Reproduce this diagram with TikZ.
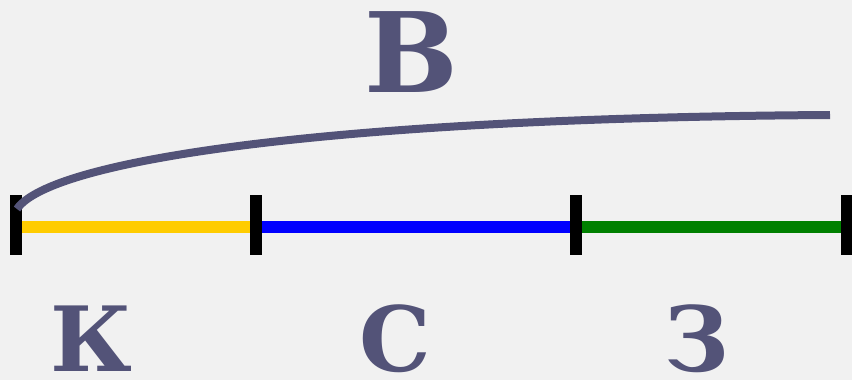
\documentclass[tikz,border=0pt]{standalone}
\usepackage{fontspec}
\setmainfont{DejaVu Serif}
\usepackage{xcolor}
\usetikzlibrary{positioning, calc}

\definecolor{slate}{RGB}{83,83,120}
\definecolor{bgray}{RGB}{241,241,241}
\definecolor{segyellow}{RGB}{255,204,0}
\definecolor{segblue}{RGB}{0,0,255}
\definecolor{seggreen}{RGB}{0,128,0}

\begin{document}
\begin{tikzpicture}[
    x=1pt, y=-1pt,
    letter/.style={text=slate, inner sep=0pt, anchor=base, font=\bfseries\fontsize{90}{90}\selectfont},
    seg/.style={line width=12pt},
    tick/.style={line width=12pt, black},
  ]
  \fill[bgray] (0,0) rectangle (852,380);
  \useasboundingbox (0,0) rectangle (852,380);

  % points on the line
  \coordinate (p0) at (16,227);
  \coordinate (p1) at (256,227);
  \coordinate (p2) at (576,227);
  \coordinate (p3) at (847,227);
  \coordinate (bend) at (830,115);

  \draw[seg, segyellow] (p0) -- (p1);
  \draw[seg, segblue] (p1) -- (p2);
  \draw[seg, seggreen] (p2) -- (p3);

  \foreach \p in {p0, p1, p2, p3}
    \draw[tick] ($(\p)+(0,-32)$) -- ($(\p)+(0,28)$);

  % arc above the segments
  \draw[slate, line width=8pt] ($(p0)+(1,-18)$) .. controls (50,160) and (330,118) .. (bend);

  \node[letter, font=\bfseries\fontsize{111}{111}\selectfont] (v) at (411,92) {В};
  \node[letter] (k) at (91,371) {К};
  \node[letter] (s) at (395,371) {С};
  \node[letter] (z) at (697,371) {З};
\end{tikzpicture}
\end{document}
